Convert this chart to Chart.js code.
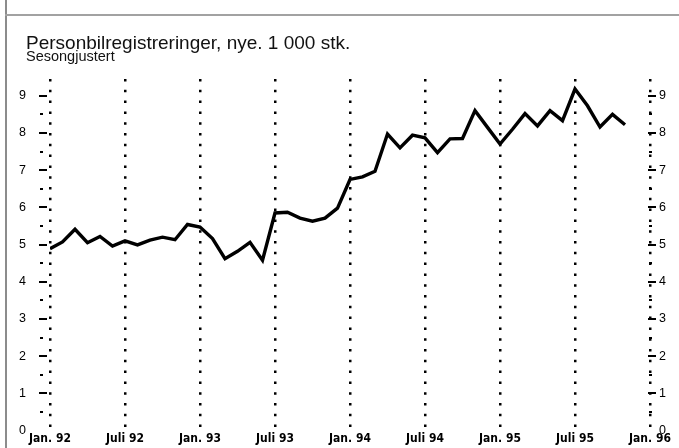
<!DOCTYPE html>
<html lang="no">
<head>
  <meta charset="UTF-8">
  <title>Personbilregistreringer</title>
  <script src="https://cdn.jsdelivr.net/npm/chart.js"></script>
  <style>
    html, body { margin: 0; padding: 0; background: #fff; }
    .frame { position: relative; width: 679px; height: 448px; overflow: hidden; }
    .frame .rule-v { position: absolute; left: 5px; top: 0; width: 2px; height: 448px; background: #8c8c8c; }
    .frame .rule-h { position: absolute; left: 5px; right: 0; top: 14px; height: 2px; background: #a2a2a2; }
    .heading { position: absolute; left: 26px; color: #111; font-family: 'Liberation Sans', Arial, Helvetica, sans-serif; white-space: nowrap; z-index: 2; }
    .heading.main { top: 33px; font-size: 19px; line-height: 19px; }
    .heading.sub { top: 48.5px; font-size: 14.5px; line-height: 14.5px; }
    canvas { position: relative; z-index: 1; }
  </style>
</head>
<body>
  <div class="frame">
    <div class="rule-v"></div>
    <div class="rule-h"></div>
    <div class="heading main">Personbilregistreringer, nye. 1 000 stk.</div>
    <div class="heading sub">Sesongjustert</div>
    <canvas id="chart" width="679" height="448"></canvas>
  </div>

  <script>
    // tick labels along the x axis, one every 6 months (Jan. 92 .. Jan. 96)
    const tickLabels = ['Jan. 92', 'Juli 92', 'Jan. 93', 'Juli 93', 'Jan. 94',
                        'Juli 94', 'Jan. 95', 'Juli 95', 'Jan. 96'];

    // monthly values, 1 000 cars, Jan 92 .. Nov 95 (seasonally adjusted)
    const registrations = [
      4.89, 5.07, 5.41, 5.05, 5.22, 4.96, 5.10, 4.99, 5.12, 5.20, 5.13, 5.54, // 1992
      5.47, 5.16, 4.62, 4.82, 5.06, 4.58, 5.85, 5.87, 5.71, 5.63, 5.71, 5.98, // 1993
      6.75, 6.82, 6.97, 7.97, 7.60, 7.94, 7.87, 7.47, 7.84, 7.85, 8.60, 8.15, // 1994
      7.70, 8.10, 8.52, 8.19, 8.60, 8.33, 9.18, 8.73, 8.16, 8.50, 8.22        // 1995
    ];

    const CONDENSED = "'DejaVu Sans Condensed', 'Liberation Sans', sans-serif";
    const SANS = "'Liberation Sans', Arial, Helvetica, sans-serif";

    const points = registrations.map((v, i) => ({ x: i, y: v }));

    // keep only the whole and half steps
    function halfSteps(scale) {
      scale.ticks = scale.ticks.filter(t => Math.abs(t.value * 2 - Math.round(t.value * 2)) < 1e-6);
    }
    // fixed side width, and no extra room reserved above/below for labels
    const sideFit = w => s => { s.width = w; s.paddingTop = 0; s.paddingBottom = 0; };
    const yLabel = v => (Number.isInteger(v) ? String(v) : '');

    // short dashes next to the value labels: long at whole numbers, short at halves
    const axisMarks = {
      id: 'axisMarks',
      afterDraw(chart) {
        const ctx = chart.ctx;
        const area = chart.chartArea;
        ctx.save();
        ctx.strokeStyle = '#000';
        ctx.lineWidth = 2;
        [chart.scales.y, chart.scales.y2].forEach(scale => {
          const onLeft = scale.position === 'left';
          scale.ticks.forEach(t => {
            if (t.value === 0) return;
            const major = Number.isInteger(t.value);
            const py = Math.round(scale.getPixelForValue(t.value));
            let x1, x2;
            if (onLeft) {
              x1 = major ? area.left - 11 : area.left - 10;
              x2 = major ? area.left - 3 : area.left - 7;
            } else {
              x1 = major ? area.right - 2 : area.right - 1;
              x2 = major ? area.right + 6 : area.right + 2;
            }
            ctx.beginPath();
            ctx.moveTo(x1, py);
            ctx.lineTo(x2, py);
            ctx.stroke();
          });
        });
        ctx.restore();
      }
    };

    new Chart(document.getElementById('chart'), {
      type: 'line',
      data: {
        datasets: [{
          data: points,
          borderColor: '#000',
          borderWidth: 3.4,
          pointRadius: 0,
          tension: 0,
          fill: false
        }]
      },
      options: {
        responsive: false,
        animation: false,
        layout: { padding: { left: 0, right: 0, top: 79, bottom: 0 } },
        plugins: {
          legend: { display: false },
          tooltip: { enabled: false }
        },
        scales: {
          x: {
            type: 'linear',
            min: 0,
            max: 48,
            afterFit: s => { s.height = 17.4; },
            ticks: {
              stepSize: 6,
              autoSkip: false,
              maxRotation: 0,
              padding: 1.5,
              color: '#000',
              font: { family: CONDENSED, size: 12, weight: 'bold' },
              callback: v => tickLabels[v / 6]
            },
            grid: { color: '#000', lineWidth: 2.5, drawTicks: false },
            border: { display: false, dash: [2.5, 8.3] }
          },
          y: {
            position: 'left',
            min: 0,
            max: 9.45,
            afterBuildTicks: halfSteps,
            afterFit: sideFit(50),
            ticks: {
              stepSize: 0.5,
              autoSkip: false,
              padding: 24,
              color: '#000',
              font: { family: SANS, size: 12.5 },
              callback: yLabel
            },
            grid: { display: false, drawTicks: false },
            border: { display: false }
          },
          y2: {
            position: 'right',
            min: 0,
            max: 9.45,
            afterBuildTicks: halfSteps,
            afterFit: sideFit(29),
            ticks: {
              stepSize: 0.5,
              autoSkip: false,
              padding: 9,
              color: '#000',
              font: { family: SANS, size: 12.5 },
              callback: yLabel
            },
            grid: { display: false, drawTicks: false },
            border: { display: false }
          }
        }
      },
      plugins: [axisMarks]
    });
  </script>
</body>
</html>
